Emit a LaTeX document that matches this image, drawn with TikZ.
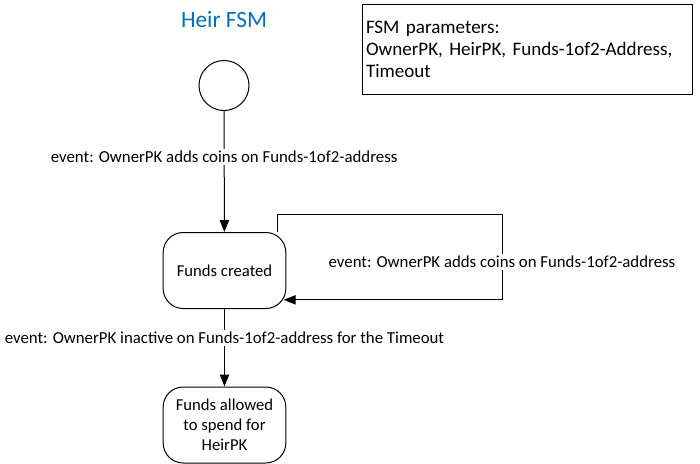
\documentclass[tikz,border=0pt]{standalone}
\usepackage{fontspec}
\setmainfont{Carlito}
\usetikzlibrary{arrows.meta,positioning}
\definecolor{titleblue}{RGB}{0,112,192}

\begin{document}
\begin{tikzpicture}[
  x=0.75pt, y=-0.75pt,
  state/.style={draw, rounded corners=15pt, fill=white, line width=0.75pt,
                minimum width=92pt, minimum height=57pt,
                font=\fontsize{12.5}{15}\selectfont, align=center},
  start/.style={draw, circle, line width=0.75pt, minimum size=37.5pt, inner sep=0pt},
  parbox/.style={draw, line width=0.75pt, minimum height=67.5pt, inner sep=3pt,
                 font=\fontsize{14.3}{16.5}\selectfont, align=left,
                 text width=241.5pt},
  lbl/.style={fill=white, inner sep=1.5pt, font=\fontsize{12.6}{14}\selectfont},
  arr/.style={-{Triangle[length=9pt,width=7pt]}, line width=0.75pt}
]
\useasboundingbox (0,0) rectangle (700,464);

%% Title and parameter box
\node[font=\fontsize{17.5}{20}\selectfont, text=titleblue] (title) at (224,20) {Heir FSM};
\node[parbox] (params) at (527,49) {FSM parameters:\\OwnerPK, HeirPK, Funds-1of2-Address,\\Timeout};

%% States
\node[start] (init) at (224,85.5) {};
\node[state] (created) at (224.5,270.5) {Funds created};
\node[state] (heir) at (224.5,425) {Funds allowed\\to spend for\\HeirPK};

%% Transitions
\coordinate (loopR) at (502,214);
\draw[arr] (init) -- node[lbl, pos=0.38] {event: OwnerPK adds coins on Funds-1of2-address} (created);
\draw[arr] ([xshift=40pt]created.north) |- (loopR)
  |- node[lbl, pos=0.28] {event: OwnerPK adds coins on Funds-1of2-address} ([yshift=-22pt, xshift=-2pt]created.east);
\draw[arr] (created) -- node[lbl, pos=0.37] {event: OwnerPK inactive on Funds-1of2-address for the Timeout} (heir);
\end{tikzpicture}
\end{document}
